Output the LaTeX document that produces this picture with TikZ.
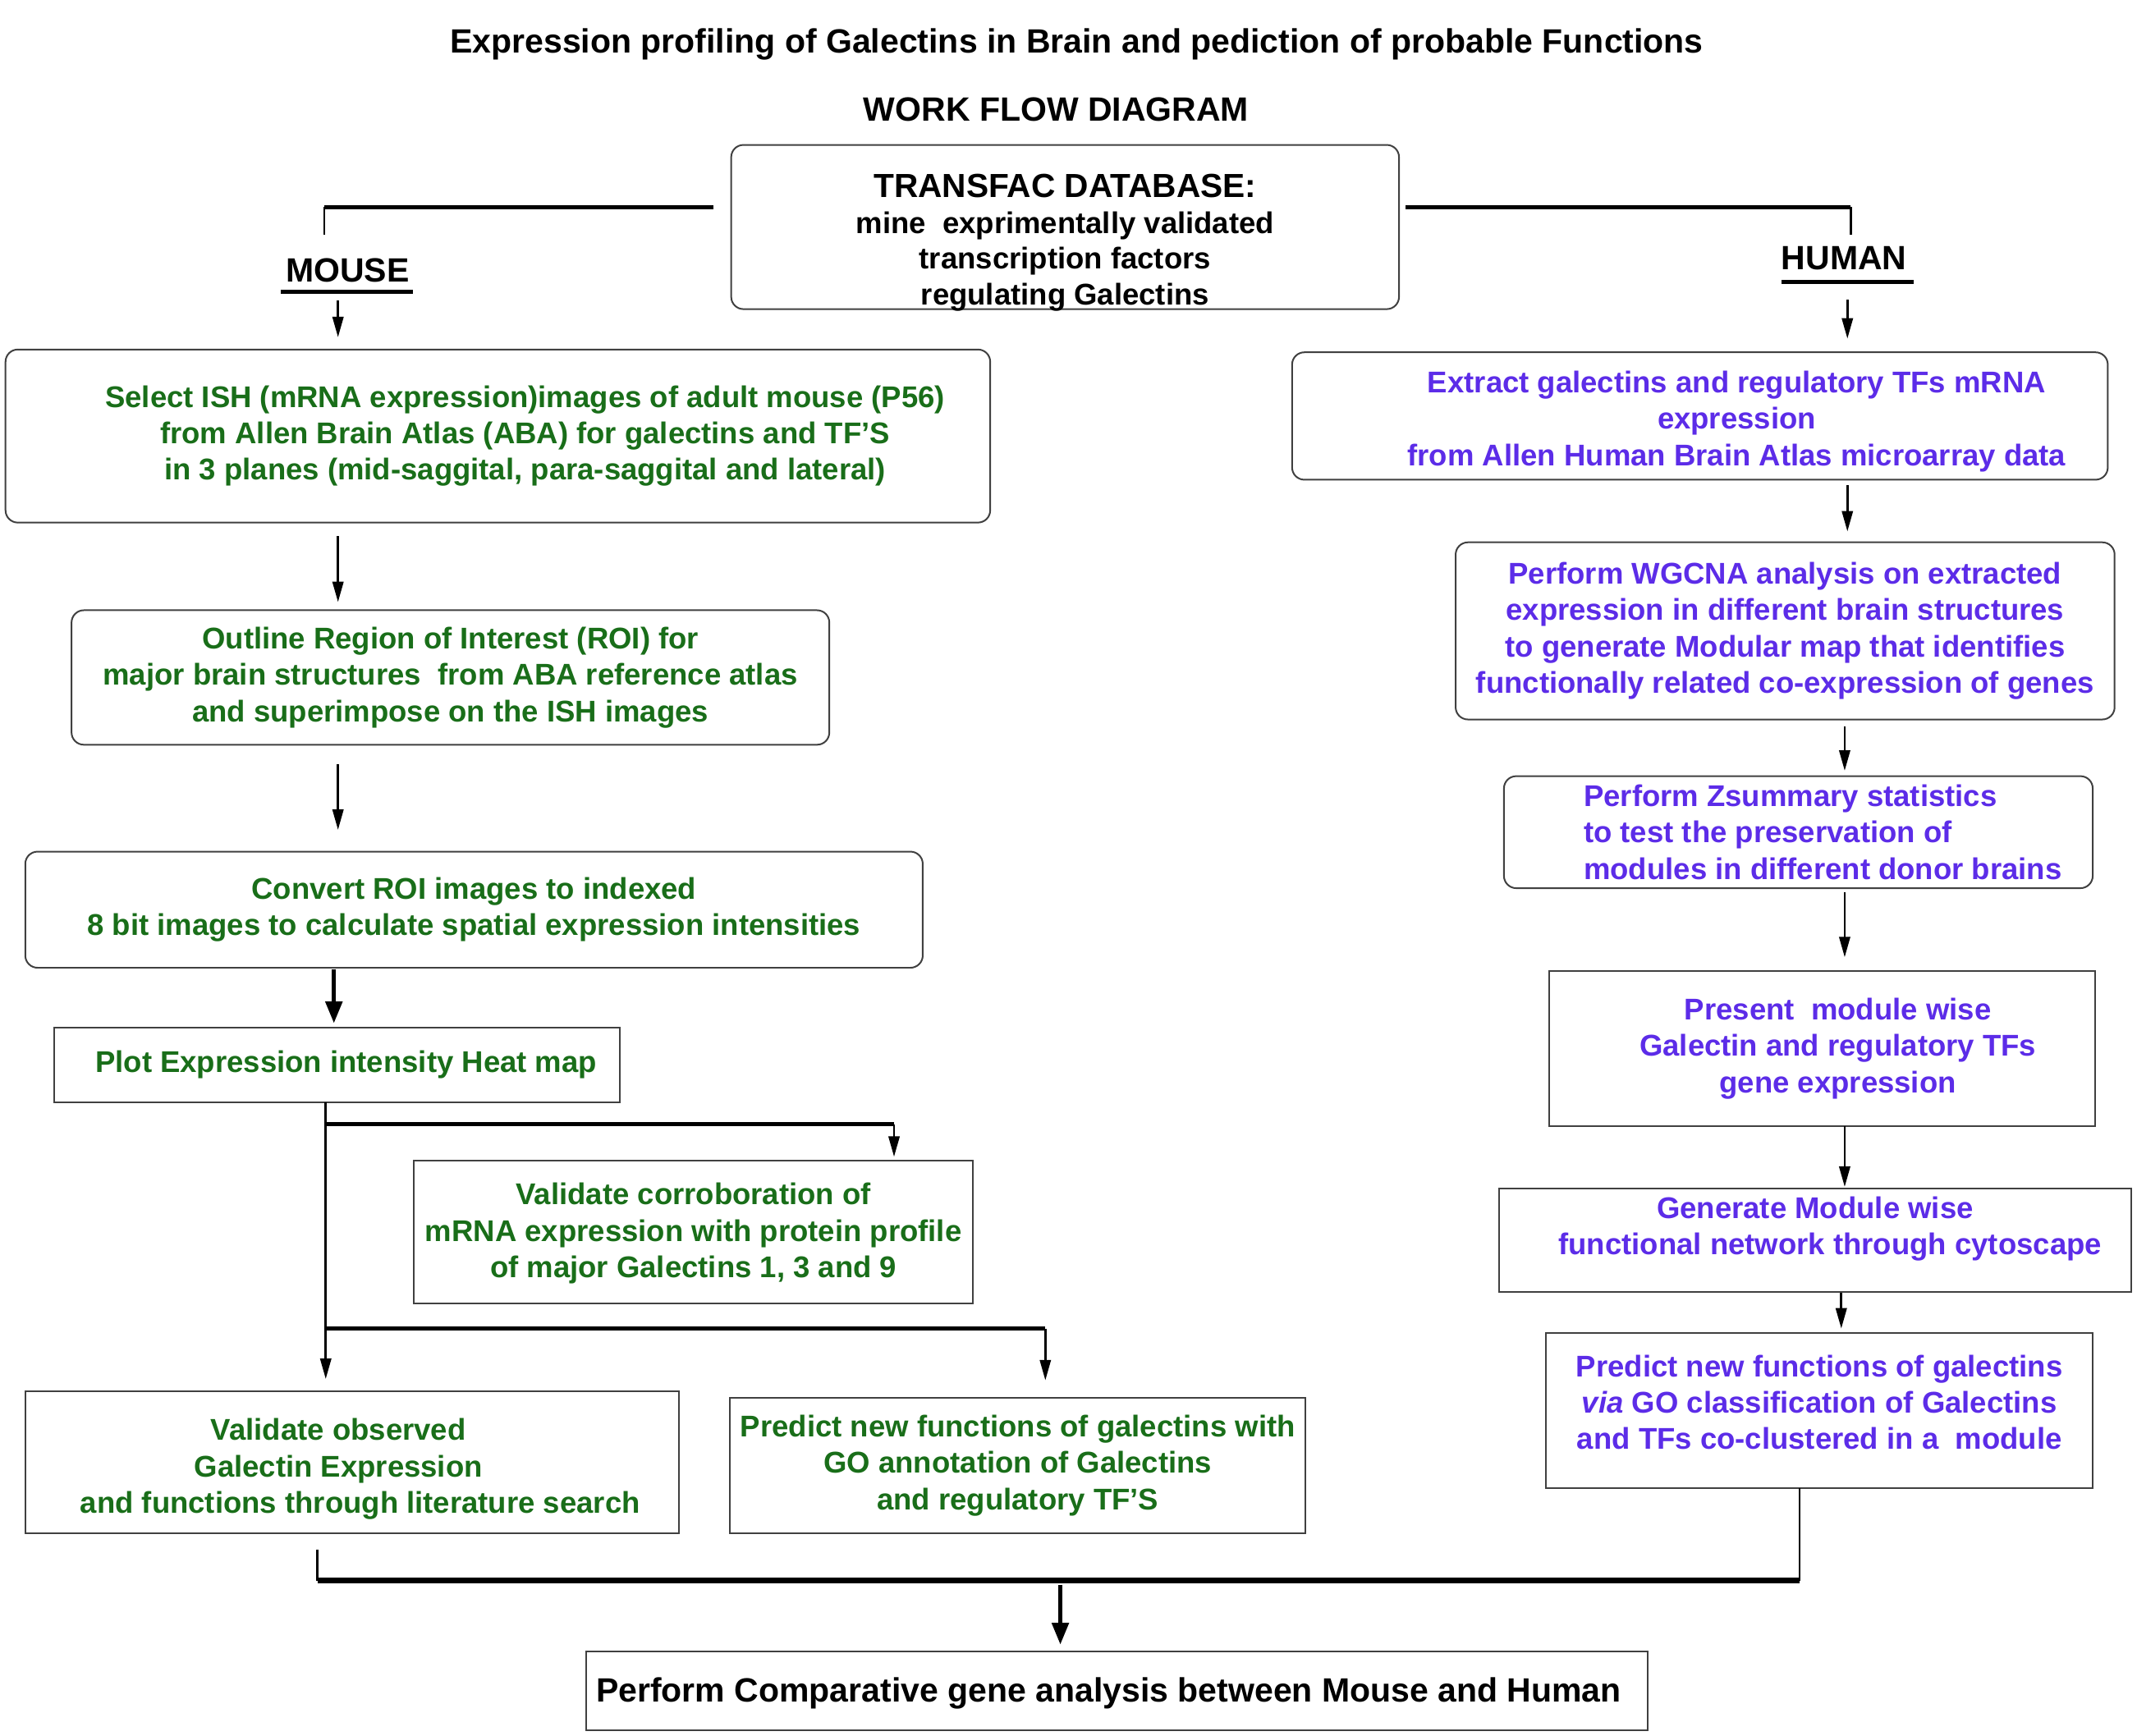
\documentclass[tikz,border=0pt]{standalone}
\usepackage{fontspec}
\setmainfont{Liberation Sans}
\usetikzlibrary{arrows.meta,calc}
\definecolor{mgreen}{RGB}{25,110,25}
\definecolor{hviolet}{RGB}{92,44,232}
\begin{document}
\begin{tikzpicture}[x=1pt,y=-1pt,
  txt/.style={inner sep=0pt,outer sep=0pt,font=\bfseries\fontsize{22}{26.7}\selectfont,align=center},
  head/.style={inner sep=0pt,outer sep=0pt,font=\bfseries\fontsize{24.7}{30}\selectfont},
  rbox/.style={txt,draw=black!75,line width=1.2pt,rounded corners=9pt},
  sbox/.style={txt,draw=black!75,line width=1.2pt},
  gtxt/.style={text=mgreen},
  vtxt/.style={text=hviolet},
  conn/.style={line width=1.6pt},
  hconn/.style={line width=3pt},
  arr/.style={conn,-{Triangle[length=15pt,width=8pt]}},
  tarr/.style={line width=3.2pt,-{Triangle[length=16pt,width=12pt]}},
]
\fill[white] (0,0) rectangle (1568,1274);
\useasboundingbox (0,0) rectangle (1568,1274);

% headings
\node[head] (title) at (790,32.5) {Expression profiling of Galectins in Brain and pediction of probable Functions};
\node[head] (wfd) at (775,80.5) {WORK FLOW DIAGRAM};

\node[rbox,font=\bfseries\fontsize{22}{26.2}\selectfont,minimum width=490,minimum height=120.5] (tf) at (781.5,166.6)
  {\rule{0pt}{35.4pt}{\fontsize{24.5}{27}\selectfont TRANSFAC DATABASE:}\\mine\ \ exprimentally validated\\transcription factors\\\smash{regulating Galectins}};

\node[head] (mouse) at (255,198.5) {MOUSE};
\node[head] (human) at (1353,189.5) {HUMAN};

% mouse column
\node[rbox,gtxt,minimum width=722.5,minimum height=127] (m1) at (365.3,320)
  {\rule{40pt}{0pt}Select ISH (mRNA expression)images of adult mouse (P56)\\\rule{40pt}{0pt}from Allen Brain Atlas (ABA) for galectins and TF’S\\\rule{40pt}{0pt}in 3 planes (mid-saggital, para-saggital and lateral)};
\node[rbox,gtxt,minimum width=556,minimum height=98.7] (m2) at (330.5,497.2)
  {Outline Region of Interest (ROI) for\\major brain structures\ \ from ABA reference atlas\\and superimpose on the ISH images};
\node[rbox,gtxt,minimum width=658.5,minimum height=85.2] (m3) at (347.8,667.6)
  {Convert ROI images to indexed\\8 bit images to calculate spatial expression intensities};
\node[sbox,gtxt,minimum width=415,minimum height=55] (m4) at (247.5,781.5)
  {\rule{13pt}{0pt}Plot Expression intensity Heat map};
\node[sbox,gtxt,minimum width=410.5,minimum height=104.5] (m5) at (508.8,904.2)
  {\rule{0pt}{18pt}Validate corroboration of\\mRNA expression with protein profile\\of major Galectins 1, 3 and 9};
\node[sbox,gtxt,minimum width=479.5,minimum height=104] (m6) at (258.3,1073)
  {\rule{0pt}{26pt}Validate observed\rule{20pt}{0pt}\\Galectin Expression\rule{20pt}{0pt}\\\rule{12pt}{0pt}and functions through literature search};
\node[sbox,gtxt,minimum width=422.5,minimum height=99] (m7) at (746.8,1075.5)
  {Predict new functions of galectins with\\GO annotation of Galectins\\and regulatory TF’S};

% human column
\node[rbox,vtxt,minimum width=598.5,minimum height=93.5] (h1) at (1247.3,305.3)
  {\rule{0pt}{24pt}\rule{54pt}{0pt}Extract galectins and regulatory TFs mRNA\\\rule{54pt}{0pt}expression\\\rule{54pt}{0pt}from Allen Human Brain Atlas microarray data};
\node[rbox,vtxt,minimum width=483.5,minimum height=130] (h2) at (1309.8,463)
  {Perform WGCNA analysis on extracted\\expression in different brain structures\\to generate Modular map that identifies\\functionally related co-expression of genes};
\node[rbox,vtxt,align=left,minimum width=432,minimum height=82.2] (h3) at (1319.5,610.7)
  {\rule{36pt}{0pt}Perform Zsummary statistics\\\rule{36pt}{0pt}to test the preservation of\\\rule{36pt}{0pt}modules in different donor brains};
\node[sbox,vtxt,minimum width=401,minimum height=114] (h4) at (1337,769.5)
  {\rule{23pt}{0pt}Present\ \ module wise\\\rule{23pt}{0pt}Galectin and regulatory TFs\\\rule{23pt}{0pt}gene expression};
\node[sbox,vtxt,minimum width=463.5,minimum height=76] (h5) at (1331.8,910)
  {Generate Module wise\\\rule{22pt}{0pt}functional network through cytoscape\rule[-21pt]{0pt}{21pt}};
\node[sbox,vtxt,minimum width=401,minimum height=114] (h6) at (1335,1035)
  {Predict new functions of galectins\\\textit{via} GO classification of Galectins\\and TFs co-clustered in a\ \ module\rule[-12pt]{0pt}{12pt}};

% final
\node[sbox,font=\bfseries\fontsize{24.7}{30}\selectfont,minimum width=779,minimum height=58] (cmp) at (819.5,1241)
  {\rule{0pt}{21pt}Perform Comparative gene analysis between Mouse and Human\rule{12pt}{0pt}};

% helper coordinates
\coordinate (tl) at (238,152);
\coordinate (tr) at (1358,152);
\coordinate (cM) at (248,0);
\coordinate (cM2) at (245,0);
\coordinate (cV) at (239,0);
\coordinate (b1) at (239,825);
\coordinate (b2) at (239,975);
\coordinate (c5) at (656,0);
\coordinate (c7) at (767,0);
\coordinate (cH) at (1355.5,0);
\coordinate (cH2) at (1353.5,0);
\coordinate (cH3) at (1351,0);
\coordinate (jl) at (233,1160);
\coordinate (jr) at (1320.5,1160);
\coordinate (cB) at (778,0);

% TRANSFAC branches
\draw[hconn] ($(tf.west |- tl)+(-13,0)$) -- (tl);
\draw[conn] (tl) -- ++(0,20);
\draw[hconn] ($(tf.east |- tr)+(5,0)$) -- (tr);
\draw[conn] (tr) -- ++(0,20);

% underlines
\draw[hconn] ($(mouse.south west)+(-4,7)$) -- ($(mouse.south east)+(3,7)$);
\draw[hconn] ($(human.south west)+(0,9)$) -- ($(human.south east)+(5,9)$);

% mouse flow
\draw[arr] ($(cM |- mouse.south)+(0,13)$) -- ($(cM |- m1.north)+(0,-9)$);
\draw[arr] ($(cM |- m1.south)+(0,10)$) -- ($(cM |- m2.north)+(0,-6)$);
\draw[arr] ($(cM |- m2.south)+(0,14)$) -- ($(cM |- m3.north)+(0,-16)$);
\draw[tarr] ($(cM2 |- m3.south)+(0,1)$) -- ($(cM2 |- m4.north)+(0,-3)$);
\draw[arr] (cV |- m4.south) -- ($(cV |- m6.north)+(0,-9)$);
\draw[hconn] (b1) -- (b1 -| c5);
\draw[arr] (b1 -| c5) -- ($(c5 |- m5.north)+(0,-3)$);
\draw[hconn] (b2) -- (b2 -| c7);
\draw[arr] (b2 -| c7) -- ($(c7 |- m7.north)+(0,-13)$);

% human flow
\draw[arr] ($(cH |- human.south)+(0,22)$) -- ($(cH |- h1.north)+(0,-10)$);
\draw[arr] ($(cH |- h1.south)+(0,4)$) -- ($(cH |- h2.north)+(0,-8)$);
\draw[arr] ($(cH2 |- h2.south)+(0,5)$) -- ($(cH2 |- h3.north)+(0,-4)$);
\draw[arr] ($(cH2 |- h3.south)+(0,3)$) -- ($(cH2 |- h4.north)+(0,-10)$);
\draw[arr] (cH2 |- h4.south) -- ($(cH2 |- h5.north)+(0,-1)$);
\draw[arr] ($(cH3 |- h5.south)+(0,1)$) -- ($(cH3 |- h6.north)+(0,-3)$);

% merge to comparison
\draw[conn] ($(jl |- m6.south)+(0,12)$) -- (jl);
\draw[conn] (jr |- h6.south) -- (jr);
\draw[line width=4pt] (jl) -- (jr);
\draw[tarr] ($(cB |- jl)+(0,3)$) -- ($(cB |- cmp.north)+(0,-5)$);
\end{tikzpicture}
\end{document}
